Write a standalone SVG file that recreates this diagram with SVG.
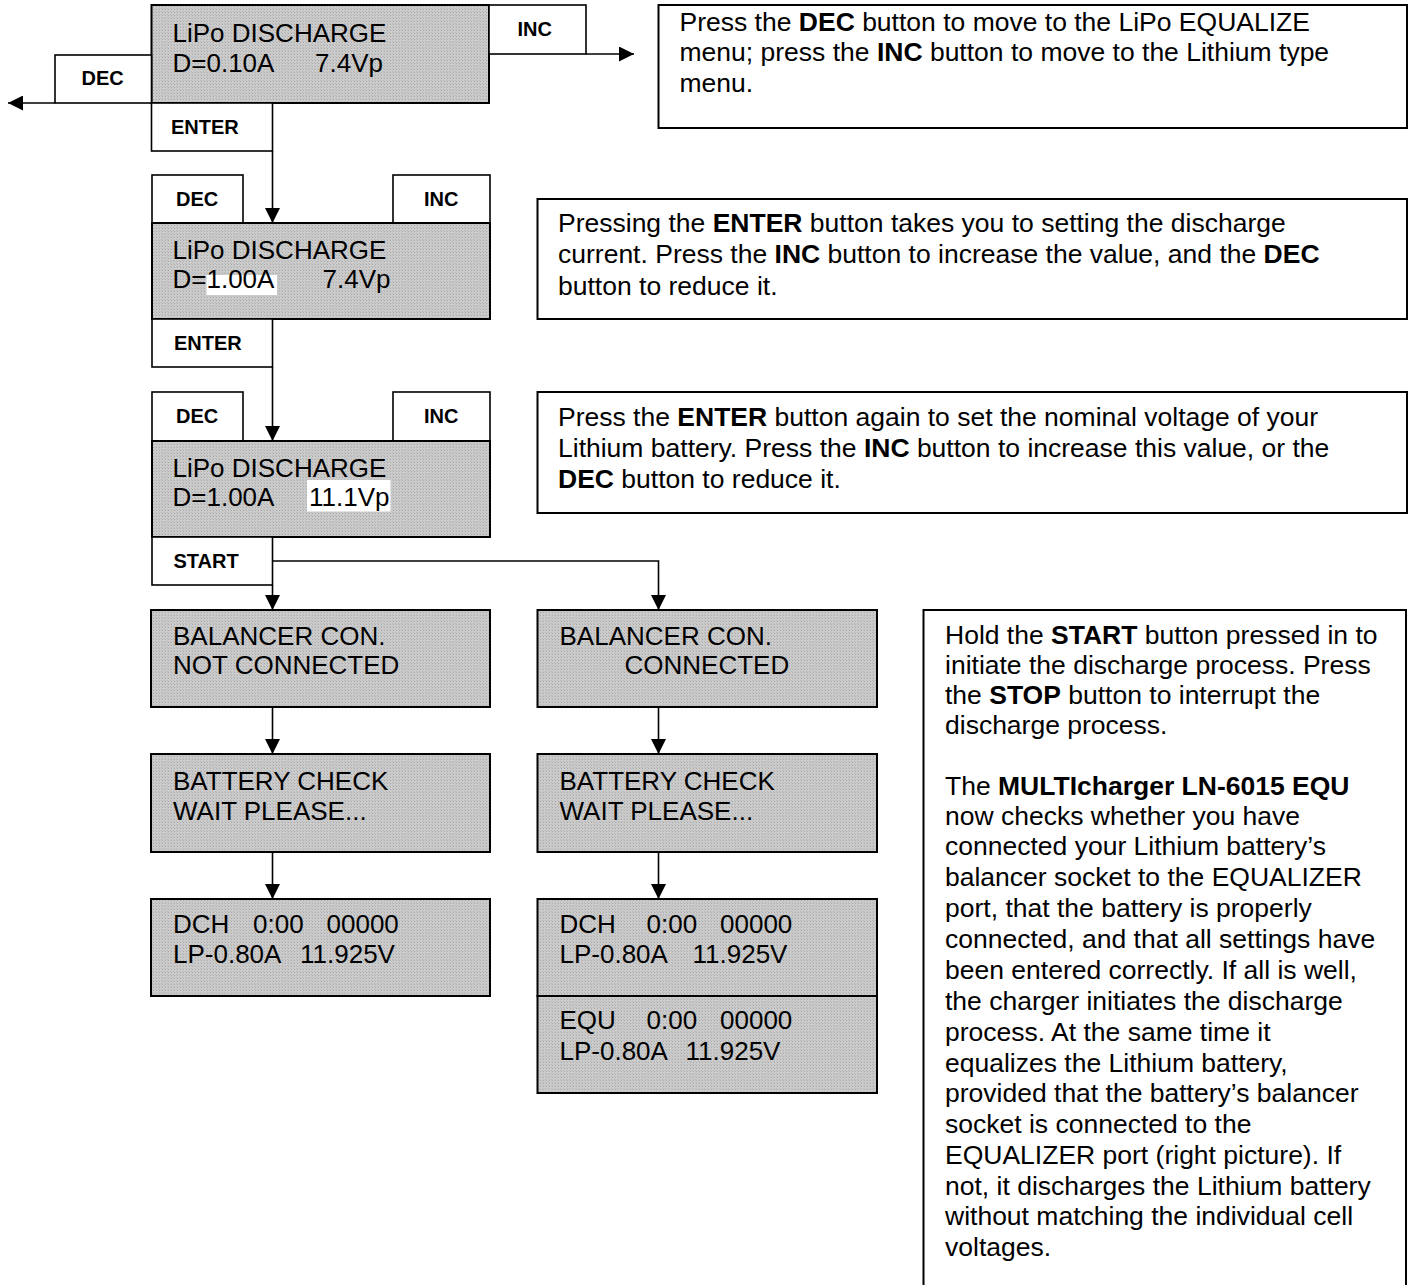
<svg xmlns="http://www.w3.org/2000/svg" width="1412" height="1285" viewBox="0 0 1412 1285">
<defs>
<pattern id="lcd" width="3" height="3" patternUnits="userSpaceOnUse">
<rect width="3" height="3" fill="#cbcbcb"/>
<rect width="1" height="1" fill="#a9a9a9"/>
<rect x="2" y="2" width="1" height="1" fill="#b8b8b8"/>
</pattern>
<marker id="ah" markerWidth="15" markerHeight="15" refX="15" refY="7.5" orient="auto" markerUnits="userSpaceOnUse">
<path d="M0,0 L15,7.5 L0,15 Z" fill="#000"/>
</marker>
</defs>
<style>
.lcd{fill:url(#lcd);stroke:#000;stroke-width:2}
.btn{fill:#fff;stroke:#000;stroke-width:1.6}
.box{fill:#fff;stroke:#000;stroke-width:2}
.lt{font-family:"Liberation Sans",Arial,sans-serif;font-size:26px;fill:#000}
.bt{font-family:"Liberation Sans",Arial,sans-serif;font-size:20px;font-weight:bold;fill:#000}
.tt{font-family:"Liberation Sans",Arial,sans-serif;font-size:26.5px;fill:#000}
.tt tspan.b{font-weight:bold}
.hl{fill:#fff}
.con{fill:none;stroke:#000;stroke-width:1.6}
</style>

<g id="connectors">
<path class="con" d="M55,103 H8" marker-end="url(#ah)"/>
<path class="con" d="M586,54 H634" marker-end="url(#ah)"/>
<path class="con" d="M272.5,151 V223" marker-end="url(#ah)"/>
<path class="con" d="M272.5,367 V441" marker-end="url(#ah)"/>
<path class="con" d="M272.5,585 V610" marker-end="url(#ah)"/>
<path class="con" d="M273,561 H658.5 V610" marker-end="url(#ah)"/>
<path class="con" d="M272.5,707 V754" marker-end="url(#ah)"/>
<path class="con" d="M658.5,707 V754" marker-end="url(#ah)"/>
<path class="con" d="M272.5,852 V899" marker-end="url(#ah)"/>
<path class="con" d="M658.5,852 V899" marker-end="url(#ah)"/>
</g>

<g id="node-menu1">
<rect class="lcd" x="151.5" y="5" width="337.5" height="98"/>
<text class="lt" x="172.5" y="42">LiPo DISCHARGE</text>
<text class="lt" y="72"><tspan x="172.5">D=0.10A</tspan><tspan x="315">7.4Vp</tspan></text>
<rect class="btn" x="489" y="5" width="97" height="49"/>
<text class="bt" x="517.5" y="36">INC</text>
<rect class="btn" x="55" y="55" width="96.5" height="48"/>
<text class="bt" x="81.5" y="85">DEC</text>
<rect class="btn" x="151.5" y="103" width="121" height="48"/>
<text class="bt" x="171" y="134">ENTER</text>
</g>

<g id="node-menu2">
<rect class="btn" x="152" y="175" width="91" height="48"/>
<text class="bt" x="176" y="206">DEC</text>
<rect class="btn" x="393" y="175" width="97" height="48"/>
<text class="bt" x="424" y="206">INC</text>
<rect class="lcd" x="152" y="223" width="338" height="96"/>
<rect class="hl" x="206.5" y="275" width="70.5" height="20"/>
<text class="lt" x="172.5" y="259">LiPo DISCHARGE</text>
<text class="lt" y="288"><tspan x="172.5">D=1.00A</tspan><tspan x="322.5">7.4Vp</tspan></text>
<rect class="btn" x="152" y="319" width="120.5" height="48"/>
<text class="bt" x="174" y="350">ENTER</text>
</g>

<g id="node-menu3">
<rect class="btn" x="152" y="392" width="91" height="49"/>
<text class="bt" x="176" y="423">DEC</text>
<rect class="btn" x="393" y="392" width="97" height="49"/>
<text class="bt" x="424" y="423">INC</text>
<rect class="lcd" x="152" y="441" width="338" height="96"/>
<rect class="hl" x="307" y="480" width="83.5" height="31.5"/>
<text class="lt" x="172.5" y="477">LiPo DISCHARGE</text>
<text class="lt" y="506"><tspan x="172.5">D=1.00A</tspan><tspan x="309">11.1Vp</tspan></text>
<rect class="btn" x="152" y="537" width="120.5" height="48"/>
<text class="bt" x="173.5" y="568">START</text>
</g>

<g id="node-bal-not">
<rect class="lcd" x="151" y="610" width="339" height="97"/>
<text class="lt" x="173" y="645">BALANCER CON.</text>
<text class="lt" x="173" y="674">NOT CONNECTED</text>
</g>
<g id="node-bal-con">
<rect class="lcd" x="537.5" y="610" width="339.5" height="97"/>
<text class="lt" x="559.5" y="645">BALANCER CON.</text>
<text class="lt" x="624.5" y="674">CONNECTED</text>
</g>

<g id="node-check-left">
<rect class="lcd" x="151" y="754" width="339" height="98"/>
<text class="lt" x="173" y="790">BATTERY CHECK</text>
<text class="lt" x="173" y="820">WAIT PLEASE...</text>
</g>
<g id="node-check-right">
<rect class="lcd" x="537.5" y="754" width="339.5" height="98"/>
<text class="lt" x="559.5" y="790">BATTERY CHECK</text>
<text class="lt" x="559.5" y="820">WAIT PLEASE...</text>
</g>

<g id="node-dch-left">
<rect class="lcd" x="151" y="899" width="339" height="97"/>
<text class="lt" y="933"><tspan x="173">DCH</tspan><tspan x="253">0:00</tspan><tspan x="326.5">00000</tspan></text>
<text class="lt" y="963"><tspan x="173">LP-0.80A</tspan><tspan x="300">11.925V</tspan></text>
</g>
<g id="node-dch-right">
<rect class="lcd" x="537.5" y="899" width="339.5" height="97"/>
<text class="lt" y="933"><tspan x="559.5">DCH</tspan><tspan x="646.5">0:00</tspan><tspan x="720">00000</tspan></text>
<text class="lt" y="963"><tspan x="559.5">LP-0.80A</tspan><tspan x="692.5">11.925V</tspan></text>
</g>
<g id="node-equ-right">
<rect class="lcd" x="537.5" y="996" width="339.5" height="97"/>
<text class="lt" y="1029"><tspan x="559.5">EQU</tspan><tspan x="646.5">0:00</tspan><tspan x="720">00000</tspan></text>
<text class="lt" y="1060"><tspan x="559.5">LP-0.80A</tspan><tspan x="685.5">11.925V</tspan></text>
</g>

<g id="note1">
<rect class="box" x="658.5" y="5" width="748.5" height="123"/>
<text class="tt" x="679.5" y="31">Press the <tspan class="b">DEC</tspan> button to move to the LiPo EQUALIZE</text>
<text class="tt" x="679.5" y="61">menu; press the <tspan class="b">INC</tspan> button to move to the Lithium type</text>
<text class="tt" x="679.5" y="92">menu.</text>
</g>

<g id="note2">
<rect class="box" x="537.5" y="199" width="869.5" height="120"/>
<text class="tt" x="558" y="232">Pressing the <tspan class="b">ENTER</tspan> button takes you to setting the discharge</text>
<text class="tt" x="558" y="263">current. Press the <tspan class="b">INC</tspan> button to increase the value, and the <tspan class="b">DEC</tspan></text>
<text class="tt" x="558" y="295">button to reduce it.</text>
</g>

<g id="note3">
<rect class="box" x="537.5" y="392" width="869.5" height="121"/>
<text class="tt" x="558" y="426">Press the <tspan class="b">ENTER</tspan> button again to set the nominal voltage of your</text>
<text class="tt" x="558" y="457">Lithium battery. Press the <tspan class="b">INC</tspan> button to increase this value, or the</text>
<text class="tt" x="558" y="488"><tspan class="b">DEC</tspan> button to reduce it.</text>
</g>

<g id="note4">
<rect class="box" x="923.5" y="610" width="482.5" height="690"/>
<text class="tt" x="945" y="644">Hold the <tspan class="b">START</tspan> button pressed in to</text>
<text class="tt" x="945" y="674">initiate the discharge process. Press</text>
<text class="tt" x="945" y="704">the <tspan class="b">STOP</tspan> button to interrupt the</text>
<text class="tt" x="945" y="734">discharge process.</text>
<text class="tt" x="945" y="795">The <tspan class="b">MULTIcharger LN-6015 EQU</tspan></text>
<text class="tt" x="945" y="825">now checks whether you have</text>
<text class="tt" x="945" y="855">connected your Lithium battery’s</text>
<text class="tt" x="945" y="886">balancer socket to the EQUALIZER</text>
<text class="tt" x="945" y="917">port, that the battery is properly</text>
<text class="tt" x="945" y="948">connected, and that all settings have</text>
<text class="tt" x="945" y="979">been entered correctly. If all is well,</text>
<text class="tt" x="945" y="1010">the charger initiates the discharge</text>
<text class="tt" x="945" y="1041">process. At the same time it</text>
<text class="tt" x="945" y="1072">equalizes the Lithium battery,</text>
<text class="tt" x="945" y="1102">provided that the battery’s balancer</text>
<text class="tt" x="945" y="1133">socket is connected to the</text>
<text class="tt" x="945" y="1164">EQUALIZER port (right picture). If</text>
<text class="tt" x="945" y="1195">not, it discharges the Lithium battery</text>
<text class="tt" x="945" y="1225">without matching the individual cell</text>
<text class="tt" x="945" y="1256">voltages.</text>
</g>
</svg>
